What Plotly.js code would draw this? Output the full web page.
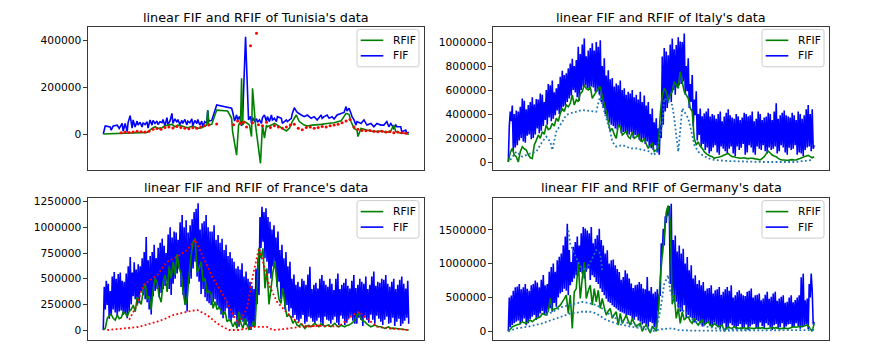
<!DOCTYPE html>
<html>
<head>
<meta charset="utf-8">
<script src="https://cdn.plot.ly/plotly-3.0.1.min.js"></script>
<style>
  body { margin: 0; background: #fff; }
  #chart { width: 877px; height: 348px; }
</style>
</head>
<body>
<div id="chart"></div>
<script>
// all series values are in thousands
// Tunisia: x is a day index with gaps
const tunFifX = [0,2,7,8,10,14,16,19,20,22, 24,25,27,29,30,32,34,35,37,39, 40,42,44,45,47,49,50,52,54,55,
  57,59,60,62,64,65,67,69,70,72, 74,75,77,79,80,82,84,85,87,89, 90,92,94,95,97,99,100,102,104,105,
  106,109,114,129,130,132,134,135,137,139, 140,143,146,148,149,150,152,154,155,157,
  159,160,162,164,165,167,169,170,172,174, 175,179,180,184,185,189,190,192,194,195,
  199,202,205,209,212,215,219,220,222,225, 227,230,232,235,239,242,244,245,247,249,
  250,252,254,255,259,262,265,269,272,275, 279,282,285,287,289,292,294,295,299,300, 304,305,307];
const tunFif = [0,34,30,16,34,38,24,45,12,45, 10,50,78,25,60,30,55,38,50,30, 48,40,52,25,60,38,58,45,55,40,
  52,48,62,35,70,40,55,88,45,65, 50,62,40,58,45,62,38,55,48,65, 35,58,45,62,38,55,30,53,45,100,
  55,58,124,110,95,55,82,60,75,35, 60,415,60,75,45,70,55,65,50,60,
  45,70,81,53,74,53,81,60,67,53, 74,67,45,60,53,67,88,112,98,92,
  81,74,81,67,74,60,81,67,74,81, 67,74,64,81,88,92,117,98,110,88,
  74,60,38,53,45,60,38,45,31,45, 38,38,53,31,45,24,38,31,31,10, 17,3,8];
const tunRfifX = [0,44,45,49,52,55,59,62,65,69, 72,75,79,82,85,89,92,95,99,102,
  104,105,106,109,114,125,129,130,134,136, 138,139,140,142,145,147,149,150,153,158,
  160,162,164,165,169,172,175,180,184,187, 190,194,197,202,205,210,219,225,232,239,
  244,247,249,252,255,256,259,265,272,279, 285,289,292,294,299,305,307];
const tunRfif = [0,7,10,24,31,24,27,35,38,41, 31,38,34,30,27,33,31,24,27,34,
  38,102,38,41,102,98,67,10,-90,38, 53,238,38,53,45,38,-11,195,38,-125,
  38,-18,38,31,38,45,38,24,13,24, 53,81,53,38,34,38,41,45,48,56,
  88,84,53,24,17,-11,24,17,10,13, 7,13,38,10,3,3,-3];
const tunDotX = [18,22,26,30,34,38,42,46,50,54,58,62,66,70,74,78,82,86,90,94,98,102,106,
  114,131,135,138,141,144,148,150,154,156,
  160,164,168,172,176,180,184,188,192,196,200,204,208,212,216,220,224,228,232,236,240,244,248,
  252,256,260,264,268,272,276,280,284,288,292,296,300,304];
const tunDot = [5,8,6,9,12,10,8,12,20,24,20,28,30,26,32,28,25,22,27,25,30,35,38,
  43,40,55,45,50,30,377,48,430,40,
  35,50,28,35,30,25,30,38,42,25,18,28,30,25,28,32,30,35,38,42,48,55,62,
  30,20,15,14,15,12,10,12,8,10,5,8,5,3];

// Italy, France, Germany: FIF on days 0..306, RFIF on every second day
const itaFif = [0,300,420,340,470,90,400,120,430,140, 420,180,460,200,530,170,510,160,440,220,
  475,230,500,190,540,200,480,230,525,280, 520,240,570,260,560,300,500,350,600,310,
  650,370,640,340,680,360,580,390,615,430, 650,400,710,420,760,460,725,470,740,500,
  780,530,820,555,860,600,800,580,850,540, 960,510,900,600,980,630,1030,640,880,615,
  930,600,950,630,990,620,930,585,1000,590, 960,560,1015,500,800,450,865,400,720,365,
  765,330,690,310,700,300,630,280,655,270, 640,300,680,240,600,250,615,250,560,225,
  585,230,570,250,600,200,540,225,560,210, 520,185,585,170,500,195,555,150,470,170,
  500,130,400,115,445,100,330,140,365,80, 280,60,310,200,880,310,950,420,920,450,
  890,530,980,500,1030,600,940,560,975,620, 1040,640,1005,650,1000,670,1070,560,800,590,
  865,450,650,500,725,300,520,390,590,180, 400,225,445,130,380,150,405,100,420,120,
  445,70,380,90,400,120,390,140,360,80, 400,60,420,130,340,110,380,90,410,70,
  440,110,390,130,370,70,360,50,400,130, 380,100,350,120,370,150,410,60,400,80,
  380,140,390,120,420,80,340,60,360,130, 420,110,400,100,350,140,370,90,380,70,
  410,120,400,100,350,110,420,130,490,70, 360,90,390,140,410,120,430,80,390,60,
  380,120,370,100,410,110,390,140,350,60, 420,80,400,70,360,50,390,100,440,120,
  475,130,400,90,440,110, 140];
const itaRfif = [0,80,114,58,44,0,86,128,110,100, 60,35,30,142,180,225,197,253,230,308,
  270,280,322,300,364,340,405,447,420,475, 460,489,558,475,520,503,570,586,642,610,
  600,628,530,560,586,610,628,545,480,420, 336,260,280,230,197,308,290,225,240,253,
  210,197,253,197,210,225,180,170,197,150, 114,140,155,86,100,114,400,558,614,586,
  503,560,586,669,640,614,752,669,586,560, 530,450,420,197,142,169,130,114,86,70,
  58,50,44,31,38,40,44,50,58,65, 72,55,44,44,38,35,31,33,35,30,
  28,31,31,28,25,22,17,30,44,70, 90,75,58,50,44,30,20,17,17,15,
  15,18,20,17,17,25,30,38,44,50, 55,45,35,44];
const itaDotX = [2,8,14,22,28,32,34,38,42,44,48,52,54,58,62,68,74,82,88,92,94,98,102,104,108,
  114,122,128,134,142,144,148,154,156,160,164,166,168,170,174,176,180,184,186,190,194,200,206,220,254,286,304];
const itaDot = [17,86,44,72,86,142,169,211,169,100,253,308,336,392,405,419,433,425,419,558,475,364,253,169,128,
  142,114,114,100,86,58,72,308,530,503,475,364,225,86,447,419,364,225,142,86,58,31,17,8,0,0,17];

const fraFif = [0,420,200,480,244,450,110,380,146,520, 200,565,170,500,130,545,180,560,190,480,
  150,470,160,550,114,620,180,710,250,560, 330,660,300,590,240,640,260,620,380,700,
  340,760,300,905,270,680,200,720,150,760, 330,830,380,700,400,800,320,850,360,890,
  400,820,430,750,470,930,400,1000,340,900, 450,960,500,950,550,880,600,1050,420,1120,
  340,1000,250,1070,180,950,450,1020,500,1080, 600,1150,665,1180,520,1235,470,980,350,1040,
  400,1060,320,1120,280,1000,260,960,244,960, 270,1020,300,880,240,925,211,850,150,890,
  114,780,180,830,211,720,110,760,81,700, 120,665,146,600,60,620,32,590,100,650,
  81,520,50,570,81,500,20,470,0,430, 30,400,49,600,250,700,340,1100,800,1200,
  860,1150,700,1185,665,1100,550,1055,503,980, 620,1020,665,900,420,960,471,780,300,830,
  341,700,200,760,244,620,180,665,211,500, 120,540,146,440,100,470,81,420,110,500,
  146,480,60,440,81,540,130,615,114,400, 80,440,65,460,90,405,120,500,70,535,
  40,480,130,440,100,420,90,500,60,450, 100,390,130,500,70,550,50,400,140,440,
  110,460,50,500,70,430,110,405,140,480, 90,535,60,410,60,440,120,500,100,470,
  40,450,120,520,100,400,70,440,150,520, 100,570,60,430,140,470,110,460,80,500,
  50,490,100,535,130,450,60,420,70,470, 120,500,40,400,80,440,110,490,40,520,
  60,450,90,405,120,480, 60];
const fraRfif = [0,16,114,140,150,114,97,146,110,120, 178,162,130,180,200,244,178,320,290,250,
  380,454,300,330,200,400,503,460,330,270, 471,536,370,620,500,665,536,740,600,550,
  373,244,300,540,730,860,893,560,600,665, 471,503,360,380,350,211,276,200,220,190,
  146,178,81,100,80,32,81,16,180,60, 16,114,50,5,20,81,32,400,800,700,
  795,406,600,250,400,568,665,450,300,260, 406,244,130,150,120,65,97,50,35,60,
  40,16,40,45,32,50,65,45,32,60, 50,32,45,49,32,50,65,40,32,45,
  40,32,45,49,60,75,97,146,160,110, 90,81,60,45,32,40,49,38,32,32,
  25,16,25,30,16,18,16,14,12,10, 8,5,3,0];
const fraDotLowX = [4,16,32,36,46,54,62,70,84,94,104,114,120,126,136,144,152,164,170,182,196,216,236,250,256,264,274,286,306];
const fraDotLow = [0,10,20,30,60,81,110,146,178,195,146,65,30,0,0,15,30,30,0,10,30,40,35,146,178,114,32,15,0];
const fraDotHighX = [26,34,40,46,54,64,74,84,92,96,104,110,116,124,130,136,144,150,156,160,166,174,180,186,194,204,216];
const fraDotHigh = [100,250,438,480,536,665,714,779,877,796,633,500,406,276,146,65,211,536,796,665,438,276,210,146,81,32,45];

const gerFif = [0,500,60,530,93,600,120,650,140,660, 160,700,100,620,150,650,190,700,90,630,
  118,600,180,680,215,700,240,750,166,720, 200,650,264,760,300,830,240,680,260,700,
  313,880,340,950,289,1000,420,880,362,1050, 500,1100,560,1150,580,1270,630,1400,600,1590,
  534,1200,680,1024,730,1250,780,1318,828,1400, 820,1269,877,1450,850,1539,779,1520,880,1490,
  926,1450,760,1539,828,1300,800,1367,730,1420, 700,1515,632,1350,580,1269,534,1150,480,1196,
  436,1000,420,1049,387,1060,360,975,338,920, 310,877,289,760,280,803,264,900,220,852,
  240,780,230,706,191,640,170,681,215,690, 160,730,142,700,100,632,118,620,90,803,
  69,600,140,656,118,560,60,583,44,620, 300,534,534,1300,1100,1515,1269,1700,1600,1809,
  1711,1850,700,1883,534,1350,500,1416,436,1180, 350,1269,289,1150,300,1220,387,1000,200,1098,
  240,900,210,975,191,780,130,828,166,700, 150,754,118,680,70,730,90,600,110,632,
  140,640,80,681,60,560,130,607,100,620, 60,656,40,540,90,583,120,620,30,656,
  50,600,120,681,90,500,60,534,30,580, 80,607,110,560,40,534,60,520,100,583,
  20,600,70,632,100,500,110,534,50,540, 30,559,130,460,80,485,40,540,120,583,
  90,480,60,510,20,560,90,583,110,450, 40,485,60,510,120,534,30,420,70,436,
  100,500,110,534,50,430,60,461,120,500, 80,534,40,800,60,852,80,460,100,485,
  30,700,500,852,600,100, 140];
const gerRfif = [0,30,69,80,93,100,118,142,125,118, 150,166,142,170,191,200,215,264,250,240,
  300,485,313,330,338,360,387,436,480,534, 264,534,44,583,632,1024,485,779,1024,485,
  600,681,387,632,436,607,338,485,350,240, 300,338,191,250,289,93,264,118,180,240,
  150,93,191,120,69,100,118,0,60,93, 40,-25,69,40,0,300,779,1122,1416,1760,
  1858,1613,400,534,191,338,118,289,166,200, 215,150,118,191,130,93,140,166,93,120,
  142,90,69,118,90,69,80,93,0,40, 69,50,44,69,55,44,50,44,54,40,
  54,48,44,40,50,54,45,54,44,40, 44,50,54,48,54,44,40,44,50,44,
  40,50,60,69,60,69,75,69,80,93, 85,40,0,118];
const gerDotLowX = [0,8,20,34,48,62,74,82,88,98,108,122,134,144,152,164,170,182,212,252,306];
const gerDotLow = [0,44,69,118,191,264,289,289,264,166,118,69,44,0,30,44,20,10,10,15,20];
const gerDotMidX = [38,54,68,74,82,88,94,102,108,114,122,134,148,152,156,160,162,166,170,172,178,182,190,198,212,242];
const gerDotMid = [240,362,412,436,412,387,338,240,191,142,118,69,30,300,700,828,600,430,380,330,270,200,120,70,35,20];
const gerDotTopX = [60,62,66,72,78,88,92,94];
const gerDotTop = [1490,1290,1150,960,900,1200,1150,900];

const titles = ["linear FIF and RFIF of Tunisia's data", "linear FIF and RFIF of Italy's data",
  "linear FIF and RFIF of France's data", "linear FIF and RFIF of Germany's data"];
const legendNames = ['RFIF', 'FIF'];
const tunTicks = [0, 200000, 400000];
const itaTicks = [0, 200000, 400000, 600000, 800000, 1000000];
const fraTicks = [0, 250000, 500000, 750000, 1000000, 1250000];
const gerTicks = [0, 500000, 1000000, 1500000];

const GREEN = '#008000', BLUE = '#0000ff', RED = '#ff0000', C0 = '#1f77b4';
const k = arr => arr.map(v => v * 1000);
const days = arr => arr.map((v, i) => i);
const every2 = arr => arr.map((v, i) => i * 2);

const FONT = 'DejaVu Sans, sans-serif';
const traces = [];

function addPanel(n, fifX, fif, rfifX, rfif, dots) {
    const xa = n === 1 ? 'x' : 'x' + n;
    const ya = n === 1 ? 'y' : 'y' + n;
    traces.push({ x: fifX, y: k(fif), xaxis: xa, yaxis: ya, name: 'FIF', showlegend: false,
        mode: 'lines', line: { color: BLUE, width: 1.6, simplify: false }, hoverinfo: 'skip' });
    traces.push({ x: rfifX, y: k(rfif), xaxis: xa, yaxis: ya, name: 'RFIF', showlegend: false,
        mode: 'lines', line: { color: GREEN, width: 1.6, simplify: false }, hoverinfo: 'skip' });
    dots.forEach(d => {
        const t = { x: d.x, y: k(d.y), xaxis: xa, yaxis: ya, showlegend: false, hoverinfo: 'skip' };
        if (d.markers) {
            t.mode = 'markers';
            t.marker = { color: d.color, size: 3 };
        } else {
            t.mode = 'lines';
            t.line = { color: d.color, width: 1.8, dash: '1.8px,2.4px' };
        }
        traces.push(t);
    });
}

addPanel(1, tunFifX, tunFif, tunRfifX, tunRfif,
    [{ x: tunDotX, y: tunDot, color: RED, markers: true }]);
addPanel(2, days(itaFif), itaFif, every2(itaRfif), itaRfif,
    [{ x: itaDotX, y: itaDot, color: C0 }]);
addPanel(3, days(fraFif), fraFif, every2(fraRfif), fraRfif,
    [{ x: fraDotLowX, y: fraDotLow, color: RED }, { x: fraDotHighX, y: fraDotHigh, color: RED }]);
addPanel(4, days(gerFif), gerFif, every2(gerRfif), gerRfif,
    [{ x: gerDotLowX, y: gerDotLow, color: C0 }, { x: gerDotMidX, y: gerDotMid, color: C0 },
     { x: gerDotTopX, y: gerDotTop, color: C0 }]);

const W = 877, H = 348;
const px = x => x / W, py = y => (H - y) / H;
const leftCol = [px(88), px(424)], rightCol = [px(493), px(829.5)];
const topRow = [py(170), py(27)], bottomRow = [py(340), py(198.3)];

function xAxis(domain, range, anchor) {
    return { domain: domain, range: range, anchor: anchor, showticklabels: false, ticks: '',
        showgrid: false, zeroline: false, showline: true, mirror: true, linecolor: '#222', linewidth: 0.9 };
}
function yAxis(domain, range, anchor, ticks) {
    return { domain: domain, range: range, anchor: anchor, tickmode: 'array', tickvals: ticks,
        ticktext: ticks.map(String), ticks: 'outside', ticklen: 3.7, tickwidth: 0.9, tickcolor: '#222',
        showgrid: false, zeroline: false, showline: true, mirror: true, linecolor: '#222', linewidth: 0.9,
        tickfont: { family: FONT, size: 10.67, color: '#000' } };
}
function title(text, x, y) {
    return { text: text, x: px(x), y: py(y), xref: 'paper', yref: 'paper', xanchor: 'center', yanchor: 'middle',
        showarrow: false, font: { family: FONT, size: 12.8, color: '#000' } };
}

// matplotlib-style legend box (rounded, light grey edge), drawn in pixel terms
const shapes = [], annotations = [];
function legendBox(x0, y0) {
    const w = 62, h = 37.5, r = 2.5;
    const x1 = x0 + w, y1 = y0 + h;
    const p = (x, y) => px(x) + ',' + py(y);
    const path = 'M' + p(x0 + r, y0) + ' L' + p(x1 - r, y0) + ' Q' + p(x1, y0) + ' ' + p(x1, y0 + r) +
        ' L' + p(x1, y1 - r) + ' Q' + p(x1, y1) + ' ' + p(x1 - r, y1) +
        ' L' + p(x0 + r, y1) + ' Q' + p(x0, y1) + ' ' + p(x0, y1 - r) +
        ' L' + p(x0, y0 + r) + ' Q' + p(x0, y0) + ' ' + p(x0 + r, y0) + ' Z';
    shapes.push({ type: 'path', xref: 'paper', yref: 'paper', path: path,
        fillcolor: 'rgba(255,255,255,0.8)', line: { color: '#cccccc', width: 1 } });
    [GREEN, BLUE].forEach((c, i) => {
        const yy = y0 + 11 + i * 15.5;
        shapes.push({ type: 'line', xref: 'paper', yref: 'paper', x0: px(x0 + 3.7), x1: px(x0 + 26.3),
            y0: py(yy), y1: py(yy), line: { color: c, width: 1.6 } });
        annotations.push({ text: legendNames[i], x: px(x0 + 33.5), y: py(yy), xref: 'paper', yref: 'paper',
            xanchor: 'left', yanchor: 'middle', showarrow: false, font: { family: FONT, size: 10.67, color: '#000' } });
    });
}
legendBox(357, 29.3);
legendBox(762, 29.3);
legendBox(357, 200.6);
legendBox(762, 200.6);

annotations.push(title(titles[0], 256, 17.2), title(titles[1], 661, 17.2),
    title(titles[2], 256, 187.2), title(titles[3], 661, 187.2));

const layout = {
    width: W, height: H,
    margin: { l: 0, r: 0, t: 0, b: 0 },
    paper_bgcolor: '#fff', plot_bgcolor: '#fff',
    font: { family: FONT, size: 10.67, color: '#000' },
    showlegend: false,
    xaxis: xAxis(leftCol, [-15.35, 322.35], 'y'),
    yaxis: yAxis(topRow, [-153700, 456800], 'x', tunTicks),
    xaxis2: xAxis(rightCol, [-15.3, 321.3], 'y2'),
    yaxis2: yAxis(topRow, [-66700, 1125000], 'x2', itaTicks),
    xaxis3: xAxis(leftCol, [-15.3, 321.3], 'y3'),
    yaxis3: yAxis(bottomRow, [-97300, 1283000], 'x3', fraTicks),
    xaxis4: xAxis(rightCol, [-15.3, 321.3], 'y4'),
    yaxis4: yAxis(bottomRow, [-128000, 1964700], 'x4', gerTicks),
    shapes: shapes,
    annotations: annotations
};

Plotly.newPlot('chart', traces, layout, { staticPlot: true, displayModeBar: false });
</script>
</body>
</html>
